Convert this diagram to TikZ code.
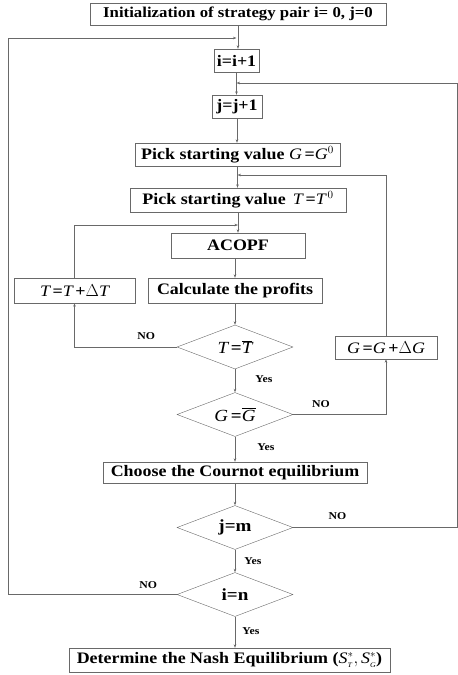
\documentclass[tikz,border=0pt]{standalone}
\usepackage{fontspec}
\setmainfont{Liberation Serif}[FakeStretch=1.12]
\usetikzlibrary{shapes.geometric,arrows.meta}
\definecolor{linegray}{RGB}{105,105,105}
\newcommand\itT{{\normalfont\itshape T}}
\newcommand\itG{{\normalfont\itshape G}}
\newcommand\itS{{\normalfont\itshape S}}
\newcommand\subit[1]{\hbox{\normalfont\itshape\scriptsize #1}}

\begin{document}
\begin{tikzpicture}[x=1pt,y=-1pt]
  \tikzset{blk/.style={draw=linegray,rectangle,inner sep=1pt,font=\bfseries\fontsize{16}{18}\selectfont},
    dec/.style={draw=linegray,diamond,aspect=2.6,inner sep=0pt,minimum width=116pt,minimum height=44pt,font=\bfseries\fontsize{17}{19}\selectfont},
    ln/.style={draw=linegray,line width=0.7pt},
    arr/.style={ln,-{Stealth[length=3.5pt,width=2.6pt]}},
    lbl/.style={font=\bfseries\fontsize{10.5}{12}\selectfont,inner sep=0pt}}
  \useasboundingbox (0,0) rectangle (458,675);
  \node[blk,minimum width=296pt,minimum height=22pt,font=\bfseries\fontsize{15}{17}\selectfont] (init) at (238,14) {Initialization of strategy pair i= 0, j=0};
  \node[blk,minimum width=45pt,minimum height=23pt] (inc_i) at (236.5,60.5) {i=i+1};
  \node[blk,minimum width=50pt,minimum height=23pt] (inc_j) at (237,106.5) {j=j+1};
  \node[blk,minimum width=205pt,minimum height=23pt] (pickG) at (237.5,154.5) {Pick starting value \itG\,=\itG$^{0}$};
  \node[blk,minimum width=216pt,minimum height=24pt] (pickT) at (238,200) {Pick starting value \,\itT\,=\itT$^{\,0}$};
  \node[blk,minimum width=134pt,minimum height=25pt] (acopf) at (238,245.5) {ACOPF};
  \node[blk,minimum width=174pt,minimum height=25pt] (calc) at (235,290.5) {Calculate the profits};
  \node[blk,minimum width=121pt,minimum height=25pt] (stepT) at (74.5,290.5) {\itT\,=\itT\,+$\Delta$\itT};
  \node[dec] (chkT) at (235,347) {\itT\,=$\overline{\hbox{\itT}}$};
  \node[blk,minimum width=102pt,minimum height=23pt] (stepG) at (386,347.5) {\itG\,=\itG\,+$\Delta$\itG};
  \node[dec] (chkG) at (235,414.5) {\itG\,=$\overline{\hbox{\itG}}$};
  \node[blk,minimum width=264pt,minimum height=21pt] (cournot) at (235,472.5) {Choose the Cournot equilibrium};
  \node[dec] (chkj) at (235,527.5) {j=m};
  \node[dec] (chki) at (235,594.5) {i=n};
  \node[blk,minimum width=321pt,minimum height=24pt] (nash) at (229.5,660) {Determine the Nash Equilibrium ($\hbox{\itS}^{*}_{\subit{T}}, \hbox{\itS}^{*}_{\subit{G}}$)};
  % junctions on the main line
  \coordinate (mi) at (236.5,38);
  \coordinate (mj) at (236.5,83);
  \coordinate (mG) at (237.5,175);
  \coordinate (mT) at (238,225);
  \coordinate (farR) at (457,83);
  \coordinate (farL) at (8,38);
  % main line
  \draw[arr] (init.south) -- (init.south |- inc_i.north);
  \draw[arr] (inc_i.south) -- (inc_i.south |- inc_j.north);
  \draw[arr] (inc_j.south) -- (inc_j.south |- pickG.north);
  \draw[arr] (pickG.south) -- (pickG.south |- pickT.north);
  \draw[arr] (pickT.south) -- (pickT.south |- acopf.north);
  \draw[arr] (calc.south |- acopf.south) -- (calc.north);
  \draw[arr] (calc.south) -- (chkT.north);
  \draw[arr] (chkT.south) -- node[lbl,right=20pt,pos=0.45] {Yes} (chkG.north);
  \draw[arr] (chkG.south) -- node[lbl,right=22pt,pos=0.4] {Yes} (cournot.north);
  \draw[arr] (cournot.south) -- (chkj.north);
  \draw[arr] (chkj.south) -- node[lbl,right=9pt,pos=0.5] {Yes} (chki.north);
  \draw[arr] (chki.south) -- node[lbl,right=7pt,pos=0.45] {Yes} (chki.south |- nash.north);
  % loops
  \draw[arr] (chkT.west) -| node[lbl,pos=0.15,above=7pt] {NO} (stepT.south);
  \draw[arr] (stepT.north) |- (mT);
  \draw[arr] (chkG.east) -| node[lbl,pos=0.15,above=7pt] {NO} (stepG.south);
  \draw[arr] (stepG.north) |- (mG);
  \draw[ln] (chkj.east) -- node[lbl,pos=0.27,above=8pt] {NO} (farR |- chkj.east) -- (farR);
  \draw[arr] (farR) -- (mj);
  \draw[ln] (chki.west) -- node[lbl,pos=0.17,above=6pt] {NO} (farL |- chki.west) -- (farL);
  \draw[arr] (farL) -- (mi);
\end{tikzpicture}
\end{document}
